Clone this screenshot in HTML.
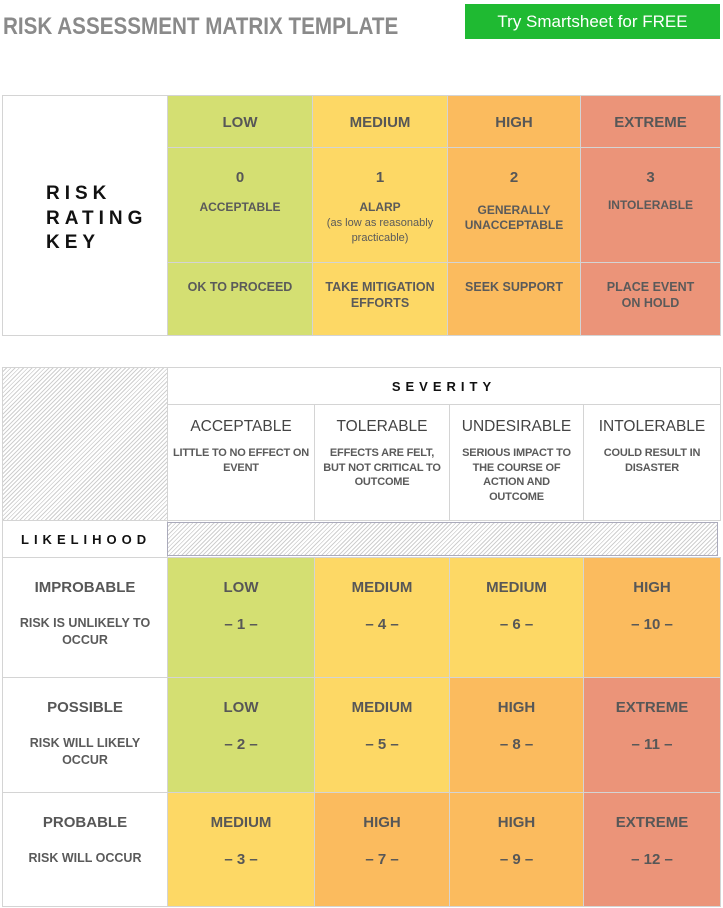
<!DOCTYPE html>
<html><head><meta charset="utf-8"><style>
body{margin:0;width:723px;height:908px;background:#fff;position:relative;font-family:"Liberation Sans",sans-serif;color:#555;overflow:hidden}
.a{position:absolute;box-sizing:border-box;text-align:center}
.b{border:1px solid #d4d4d4}
.h{font-size:15px;font-weight:bold;color:#575757}
.s{font-size:12px;font-weight:bold;color:#5a5a5a;line-height:15px}
.hatch{background:repeating-linear-gradient(135deg,#fff 0 2px,#cfcfcf 2px 3px)}
.sp{letter-spacing:5px;font-weight:bold;color:#111}
</style></head><body>
<div class="a" style="left:3px;top:13px;text-align:left;font-size:24px;font-weight:bold;color:#8a8a8a;transform:scaleX(0.86);transform-origin:left;white-space:nowrap">RISK ASSESSMENT MATRIX TEMPLATE</div>
<div class="a" style="left:465px;top:4px;width:255px;height:35px;background:#1fba32;color:#fff;font-size:17px;line-height:35px">Try Smartsheet for FREE</div>

<div id="key"></div>
<div id="mx"></div>
<script>
const C={LOW:'#d4df72',MEDIUM:'#fdd865',HIGH:'#fbbb5e',EXTREME:'#eb9479'};
function box(parent,x,y,w,h,html,cls,bg,name){const d=document.createElement('div');d.className='a b '+(cls||'');d.style.cssText=`left:${x}px;top:${y}px;width:${w}px;height:${h}px;`+(bg?`background:${bg};`:'');d.innerHTML=html;


parent.appendChild(d);return d;}
const K=document.getElementById('key');
box(K,2,95,166,241,'<div class="sp" style="position:absolute;left:43px;top:86px;text-align:left;font-size:19px;line-height:24.5px;letter-spacing:5px">RISK<br>RATING<br>KEY</div>','',null,'key-title');
const levels=['LOW','MEDIUM','HIGH','EXTREME'];
const nums=['0','1','2','3'];
const desc=['ACCEPTABLE','ALARP<br><span style="font-weight:normal;font-size:11px;line-height:13px">(as low as reasonably<br>practicable)</span>','GENERALLY<br>UNACCEPTABLE','INTOLERABLE'];
const acts=['OK TO PROCEED','TAKE MITIGATION<br>EFFORTS','SEEK SUPPORT','PLACE EVENT<br>ON HOLD'];
const kx=[167,312,447,580,720];
levels.forEach((l,i)=>{const x=kx[i],w=kx[i+1]-x+1,bg=C[l];
box(K,x,95,w,53,`<div class="h" style="margin-top:18px">${l}</div>`,'',bg,'key-level-'+l.toLowerCase());
box(K,x,147,w,116,`<div class="h" style="margin-top:21px">${nums[i]}</div><div class="s" style="margin-top:${i==2?17:(i==3?12:14)}px">${desc[i]}</div>`,'',bg,'key-rating-'+nums[i]);
box(K,x,262,w,74,`<div class="s" style="margin-top:16px;font-size:12.5px;line-height:16px">${acts[i]}</div>`,'',bg,'key-action-'+l.toLowerCase());});

const M=document.getElementById('mx');
const sev=['ACCEPTABLE','TOLERABLE','UNDESIRABLE','INTOLERABLE'];
const sevD=['LITTLE TO NO EFFECT ON<br>EVENT','EFFECTS ARE FELT,<br>BUT NOT CRITICAL TO<br>OUTCOME','SERIOUS IMPACT TO<br>THE COURSE OF<br>ACTION AND<br>OUTCOME','COULD RESULT IN<br>DISASTER'];
const lik=['IMPROBABLE','POSSIBLE','PROBABLE'];
const likD=['RISK IS UNLIKELY TO<br>OCCUR','RISK WILL LIKELY<br>OCCUR','RISK WILL OCCUR'];
const cellLevel=[['LOW','MEDIUM','MEDIUM','HIGH'],['LOW','MEDIUM','HIGH','EXTREME'],['MEDIUM','HIGH','HIGH','EXTREME']];
const cellNum=[[1,4,6,10],[2,5,8,11],[3,7,9,12]];
const mx=[167,314,449,583,720];
const my=[557,677,792,906];
box(M,2,367,166,154,'','hatch',null,'corner-hatch');
box(M,167,367,554,38,'<div class="sp" style="margin-top:11px;font-size:13px">SEVERITY</div>','',null,'severity-title');
sev.forEach((s,i)=>{box(M,mx[i],404,mx[i+1]-mx[i]+1,117,`<div class="h" style="margin-top:13px;font-weight:normal;font-size:15.5px;color:#444">${s}</div><div class="s" style="margin-top:10px;font-size:11px;line-height:14.5px;white-space:nowrap;letter-spacing:-0.2px">${sevD[i]}</div>`,'',null,'severity-'+s.toLowerCase());});
box(M,2,520,166,38,'<div class="sp" style="margin-top:11px;font-size:13px;text-align:left;padding-left:18px">LIKELIHOOD</div>','',null,'likelihood-title');
box(M,167,522,551,34,'','hatch',null,'likelihood-hatch-bar').style.borderColor='#aab';
lik.forEach((l,r)=>{const y=my[r],h=my[r+1]-y+1;
box(M,2,y,166,h,`<div class="h" style="margin-top:21px">${l}</div><div class="s" style="margin-top:19px;font-size:12.5px;line-height:17px">${likD[r]}</div>`,'',null,'likelihood-'+l.toLowerCase());
cellLevel[r].forEach((lv,c)=>{box(M,mx[c],y,mx[c+1]-mx[c]+1,h,`<div class="h" style="margin-top:21px">${lv}</div><div class="h" style="margin-top:20px">– ${cellNum[r][c]} –</div>`,'',C[lv],'cell-'+cellNum[r][c]);});});
</script>
</body></html>
